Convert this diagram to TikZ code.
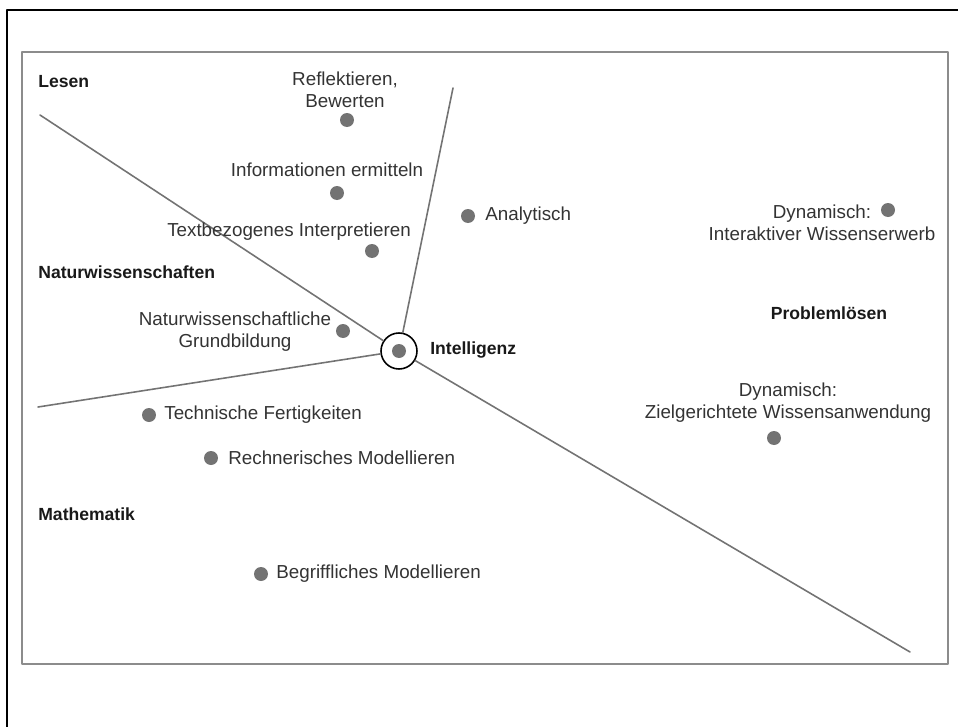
\documentclass[tikz,border=0pt]{standalone}
\usepackage{fontspec}
\setmainfont{Liberation Sans}
\begin{document}
\begin{tikzpicture}[x=0.02cm,y=-0.02cm,line cap=round,line join=round,
  txt/.style={text=black!80,font=\fontsize{10.7}{12.5}\selectfont,inner sep=0pt},
  head/.style={text=black!90,font=\fontsize{10}{12}\selectfont\bfseries,inner sep=0pt,anchor=west},
  dot/.style={circle,fill=black!55,minimum size=0.28cm,inner sep=0pt},
  axis/.style={draw=black!55,line width=0.9pt}]
  \useasboundingbox (0,0) rectangle (958,727);
  % frames
  \draw[line width=1.2pt] (7,740) -- (7,10) -- (970,10);
  \draw[draw=black!45,line width=0.9pt] (22,52) rectangle (948,664);
  % centre
  \node[circle,draw=black,line width=0.9pt,minimum size=0.72cm,inner sep=0pt] (ctr) at (399,351) {};
  \node[dot] (intel) at (399,351) {};
  \node[head] (lintel) at (430,350) {Intelligenz};
  \coordinate (eLesen) at (40,115);
  \coordinate (eTop) at (453,88);
  \coordinate (eLeft) at (38,407);
  \coordinate (eRight) at (910,652);
  \draw[axis] (ctr) -- (eLesen);
  \draw[axis] (ctr) -- (eTop);
  \draw[axis] (ctr) -- (eLeft);
  \draw[axis] (ctr) -- (eRight);
  % domains
  \node[head] (lesen) at (38,82) {Lesen};
  \node[head] (natur) at (38,272) {Naturwissenschaften};
  \node[head] (mathe) at (38,514) {Mathematik};
  \node[head,anchor=center] (probl) at (829,313) {Problemlösen};
  % Lesen
  \node[dot] (dRefl) at (347,120) {};
  \node[txt,align=center] (tRefl) at (345,90) {Reflektieren,\\Bewerten};
  \node[dot] (dInfo) at (337,193) {};
  \node[txt] (tInfo) at (327,170) {Informationen ermitteln};
  \node[dot] (dText) at (372,251) {};
  \node[txt] (tText) at (289,232) {Textbezogenes Interpretieren};
  \node[dot] (dAnal) at (468,216) {};
  \node[txt,anchor=west] (tAnal) at (485,216) {Analytisch};
  % Naturwissenschaften
  \node[dot] (dGrund) at (343,331) {};
  \node[txt,align=center] (tGrund) at (235,332) {Naturwissenschaftliche\\Grundbildung};
  % Mathematik
  \node[dot] (dTech) at (149,415) {};
  \node[txt,anchor=west] (tTech) at (164,415) {Technische Fertigkeiten};
  \node[dot] (dRech) at (211,458) {};
  \node[txt,anchor=west] (tRech) at (228,458) {Rechnerisches Modellieren};
  \node[dot] (dBegr) at (261,574) {};
  \node[txt,anchor=west] (tBegr) at (276,574) {Begriffliches Modellieren};
  % Problemloesen
  \node[dot] (dInter) at (888,210) {};
  \node[txt,align=center] (tInter) at (822,223) {Dynamisch:\\Interaktiver Wissenserwerb};
  \node[dot] (dZiel) at (774,438) {};
  \node[txt,align=center] (tZiel) at (788,403) {Dynamisch:\\Zielgerichtete Wissensanwendung};
\end{tikzpicture}
\end{document}
